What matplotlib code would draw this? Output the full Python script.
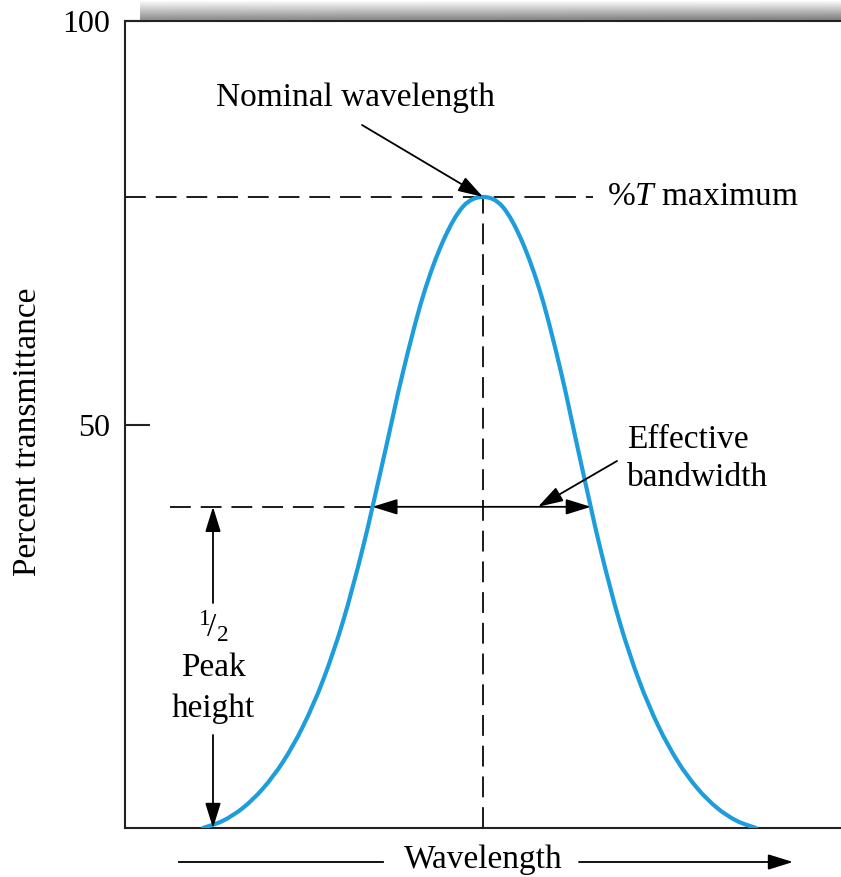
import numpy as np
import matplotlib
matplotlib.use("Agg")
import matplotlib.pyplot as plt
from matplotlib.path import Path
from matplotlib.patches import PathPatch

plt.rcParams['font.family'] = ['Liberation Serif', 'DejaVu Serif']
plt.rcParams['mathtext.fontset'] = 'custom'
plt.rcParams['mathtext.rm'] = 'Liberation Serif'
plt.rcParams['mathtext.it'] = 'Liberation Serif:italic'

# ---- data (wavelength in arbitrary units) ----
wavelength = [203, 223, 243, 263, 283, 303, 323, 343, 363, 383, 403, 423, 443, 463, 483,
              502.5, 522, 541.5, 561, 580.5, 600, 619.5, 639, 658.5, 678, 697.5, 717, 736.5, 756]
transmittance = [0.0, 0.9, 2.5, 4.9, 8.2, 12.6, 18.3, 25.6, 34.8, 45.5, 56.5, 65.9, 72.7, 77.0, 78.2,
                 77.0, 72.7, 65.9, 56.5, 45.5, 34.8, 25.6, 18.3, 12.6, 8.2, 4.9, 2.5, 0.9, 0.0]
half_height = 39.8
y_ticks = [50, 100]
y_tick_labels = ["50", "100"]

W, H = 841, 877
fig = plt.figure(figsize=(W / 100, H / 100), dpi=100)
ax = fig.add_axes([125 / W, (H - 828) / H, (W - 125) / W, 807 / H])
ax.set_xlim(125, 841)
ax.set_ylim(0, 100)

spine_c = '#222222'
for s in ['left', 'bottom', 'top']:
    ax.spines[s].set_linewidth(1.5)
    ax.spines[s].set_color(spine_c)
ax.spines['right'].set_visible(False)
ax.set_xticks([])
ax.set_yticks(y_ticks)
ax.set_yticklabels(y_tick_labels)
ax.tick_params(axis='y', direction='in', length=18, width=1.5, color=spine_c,
               pad=11, labelsize=23)

# gradient bar above the top spine
gax = fig.add_axes([140 / W, (H - 20) / H, (W - 140) / W, 19 / H])
grad = np.linspace(0.98, 0.55, 40)[:, None] * np.ones((1, 200))
grad = grad - np.linspace(0, 0.06, 200)[None, :] * np.linspace(0, 1, 40)[:, None]
gax.imshow(grad, cmap='gray', vmin=0, vmax=1, aspect='auto', interpolation='bilinear')
gax.axis('off')

# smooth curve through the read points (Catmull-Rom rendered as Bezier path)
P = np.column_stack([wavelength, transmittance]).astype(float)
n = len(P)
verts = [P[0]]
codes = [Path.MOVETO]
for i in range(n - 1):
    p0 = P[i - 1] if i > 0 else P[i]
    p3 = P[i + 2] if i + 2 < n else P[i + 1]
    c1 = P[i] + (P[i + 1] - p0) / 6.0
    c2 = P[i + 1] - (p3 - P[i]) / 6.0
    verts += [c1, c2, P[i + 1]]
    codes += [Path.CURVE4] * 3
ax.add_patch(PathPatch(Path(verts, codes), facecolor='none', edgecolor='#1e9ddc',
                       lw=3.0, capstyle='round', zorder=4))

peak_i = int(np.argmax(transmittance))
peak_x, peak_T = wavelength[peak_i], transmittance[peak_i]
left_edge = np.interp(half_height, transmittance[:peak_i + 1], wavelength[:peak_i + 1])
right_edge = np.interp(half_height, transmittance[peak_i:][::-1], wavelength[peak_i:][::-1])

dash = (0, (10.7, 5.1))
dc = '#1a1a1a'
ax.plot([125, 593], [peak_T, peak_T], color=dc, lw=1.4, linestyle=dash, zorder=3)
ax.plot([peak_x, peak_x], [0, peak_T], color=dc, lw=1.4, linestyle=dash, zorder=3)
ax.plot([170, left_edge], [half_height, half_height], color=dc, lw=1.4,
        linestyle=dash, zorder=3)

aprops = dict(arrowstyle='-|>,head_length=0.9,head_width=0.28', color='black',
              lw=1.3, mutation_scale=17, shrinkA=0, shrinkB=0)

# effective bandwidth double arrow
ax.annotate('', xy=(left_edge, half_height), xytext=(peak_x, half_height),
            arrowprops=aprops, zorder=5)
ax.annotate('', xy=(right_edge, half_height), xytext=(peak_x, half_height),
            arrowprops=aprops, zorder=5)

fs = 24
# Nominal wavelength
ax.text(355, H - 98, 'Nominal wavelength', transform=None, ha='center', va='center', fontsize=fs)
ax.annotate('', xy=(peak_x, peak_T), xycoords='data', xytext=(362, H - 125),
            textcoords='figure pixels', arrowprops=aprops, zorder=6)

# %T maximum
ax.text(607, H - 197, r'%$T$ maximum', transform=None, ha='left', va='center', fontsize=fs)

# Effective bandwidth
ax.text(627, H - 440, 'Effective', transform=None, ha='left', va='center', fontsize=fs)
ax.text(627, H - 478, 'bandwidth', transform=None, ha='left', va='center', fontsize=fs)
ax.annotate('', xy=(538, half_height), xycoords='data', xytext=(617, H - 461),
            textcoords='figure pixels', arrowprops=aprops, zorder=6)

# 1/2 peak height
ax.text(213, H - 627, r'$^1\!/_2$', transform=None, ha='center', va='center', fontsize=fs)
ax.text(213, H - 668, 'Peak', transform=None, ha='center', va='center', fontsize=fs)
ax.text(213, H - 709, 'height', transform=None, ha='center', va='center', fontsize=fs)
ax.annotate('', xy=(213, half_height), xycoords='data', xytext=(213, H - 603),
            textcoords='figure pixels', arrowprops=aprops, zorder=6)
ax.annotate('', xy=(213, 0), xycoords='data', xytext=(213, H - 735),
            textcoords='figure pixels', arrowprops=aprops, zorder=6)

# Wavelength axis label with arrow
ax.text(483, H - 860, 'Wavelength', transform=None, ha='center', va='center', fontsize=fs)
fig.add_artist(plt.Line2D([179 / W, 383 / W], [(H - 862) / H] * 2, color='black', lw=1.3))
ax.annotate('', xy=(793, H - 862), xycoords='figure pixels', xytext=(579, H - 862),
            textcoords='figure pixels', arrowprops=aprops, annotation_clip=False)

# y label
ax.text(28, H - 432, 'Percent transmittance', transform=None, ha='center', va='center',
        rotation=90, fontsize=fs)

fig.savefig('out.png', dpi=100)
